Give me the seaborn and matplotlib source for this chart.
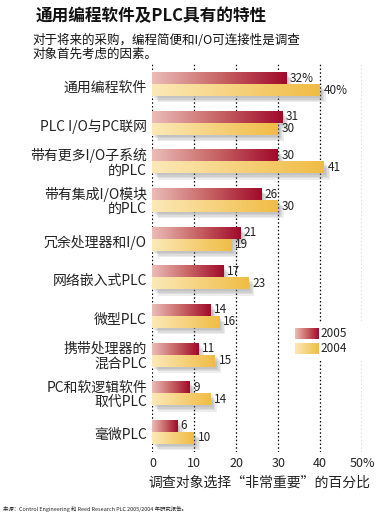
import numpy as np
import pandas as pd
import matplotlib
matplotlib.use("Agg")
import matplotlib.pyplot as plt
import matplotlib.patheffects as pe
import matplotlib.transforms as mtransforms
from matplotlib.colors import LinearSegmentedColormap
import seaborn as sns

categories = ["通用编程软件", "PLC I/O与PC联网", "带有更多I/O子系统\n的PLC",
              "带有集成I/O模块\n的PLC", "冗余处理器和I/O", "网络嵌入式PLC",
              "微型PLC", "携带处理器的\n混合PLC", "PC和软逻辑软件\n取代PLC", "毫微PLC"]
values_2005 = [32, 31, 30, 26, 21, 17, 14, 11, 9, 6]
values_2004 = [40, 30, 41, 30, 19, 23, 16, 15, 14, 10]
series = ["2005", "2004"]
xticks = [0, 10, 20, 30, 40, 50]
xtick_labels = ["0", "10", "20", "30", "40", "50%"]

sns.set_theme(style="white")
plt.rcParams['font.family'] = ['Noto Sans CJK SC', 'DejaVu Sans']

df = pd.DataFrame({
    "category": categories * 2,
    "value": values_2005 + values_2004,
    "year": [series[0]] * len(categories) + [series[1]] * len(categories),
})

fig = plt.figure(figsize=(3.82, 5.15), dpi=100)
ax = fig.add_axes([0.399, 0.1223, 0.549, 0.7534])

base_colors = {"2005": "#a00a2a", "2004": "#f0bc44"}
cmaps = {
    "2005": LinearSegmentedColormap.from_list("c05", ["#ebbcb8", "#c86666", "#a00a2a"]),
    "2004": LinearSegmentedColormap.from_list("c04", ["#fce9b8", "#f6d27e", "#f0bc44"]),
}

sns.barplot(data=df, y="category", x="value", hue="year", hue_order=series,
            palette=base_colors, orient="h", width=0.62, legend=False, ax=ax,
            saturation=1)

grad = np.linspace(0, 1, 256).reshape(1, -1)
shadow = [pe.SimplePatchShadow(offset=(o, -o - 0.5), shadow_rgbFace="#777777", alpha=0.13)
          for o in (1, 2, 3, 4)]
for bar in list(ax.patches):
    fc = matplotlib.colors.to_hex(bar.get_facecolor())
    year = "2005" if fc == base_colors["2005"] else "2004"
    x, y = bar.get_x(), bar.get_y()
    w, h = bar.get_width(), bar.get_height()
    bar.set_path_effects(shadow)
    bar.set_zorder(2)
    ax.imshow(grad, extent=[x, x + w, y + h, y], aspect="auto",
              cmap=cmaps[year], zorder=3, interpolation="bilinear")
    idx = int(round(y + h / 2 + (0.155 if year == "2005" else -0.155)))
    label = f"{int(w)}%" if idx == 0 else f"{int(w)}"
    ax.text(x + w + 0.75, y + h / 2, label, va="center", ha="left",
            fontsize=8.5, color="#222222", zorder=4)

ax.set_xlim(0, 50)
ax.set_ylim(9.52, -0.52)
ax.set_xticks(xticks)
ax.set_xticklabels(xtick_labels, fontsize=9, color="#222222")
ax.tick_params(axis="x", length=0, pad=3.6)
ax.tick_params(axis="y", length=0)

# category labels, drawn from the axis' own tick positions
ypos = ax.get_yticks()
ylabels = [t.get_text() for t in ax.get_yticklabels()]
ax.set_yticklabels([])
for yp, lab in zip(ypos, ylabels):
    dy = -1.5 if "\n" in lab else -3.5
    tr = mtransforms.blended_transform_factory(ax.transAxes, ax.transData) + \
        mtransforms.ScaledTranslation(-5.5 / 100, dy / 100, fig.dpi_scale_trans)
    ax.text(0, yp, lab, transform=tr, ha="right", va="center",
            multialignment="right", fontsize=10, color="#222222", linespacing=1.05)

for xv in xticks:
    ax.axvline(xv, color="black", linestyle=(0, (1.2, 1.8)), linewidth=0.9, zorder=1)
for s in ax.spines.values():
    s.set_visible(False)
ax.set_xlabel("")
ax.set_ylabel("")

# legend (gradient swatches)
leg_items = [("2005", 6.31, 6.59), ("2004", 6.70, 6.98)]
ax.add_patch(plt.Rectangle((33.5, 6.18), 16.4, 0.95, facecolor="white",
                           edgecolor="none", zorder=2.5))
for name, y0, y1 in leg_items:
    ax.imshow(grad, extent=[34.0, 39.5, y1, y0], aspect="auto",
              cmap=cmaps[name], zorder=3, interpolation="bilinear")
    ax.text(40.0, (y0 + y1) / 2, name, va="center", ha="left",
            fontsize=8.5, color="#222222", zorder=4)
ax.set_xlim(0, 50)
ax.set_ylim(9.52, -0.52)

fig.text(0.092, 0.969, "通用编程软件及PLC具有的特性", fontsize=12,
         fontweight="bold", va="center", ha="left", color="#111111")
fig.text(0.086, 0.922, "对于将来的采购，编程简便和I/O可连接性是调查", fontsize=9,
         va="center", ha="left", color="#111111")
fig.text(0.086, 0.895, "对象首先考虑的因素。", fontsize=9,
         va="center", ha="left", color="#111111")
fig.text(0.679, 0.062, "调查对象选择“非常重要”的百分比", fontsize=10,
         va="center", ha="center", color="#222222")
fig.text(0.008, 0.012, "来源：Control Engineering 和 Reed Research PLC 2005/2004 年研究报告。",
         fontsize=3.9, style="italic", va="center", ha="left", color="#222222")

fig.savefig("out.png", dpi=100)
